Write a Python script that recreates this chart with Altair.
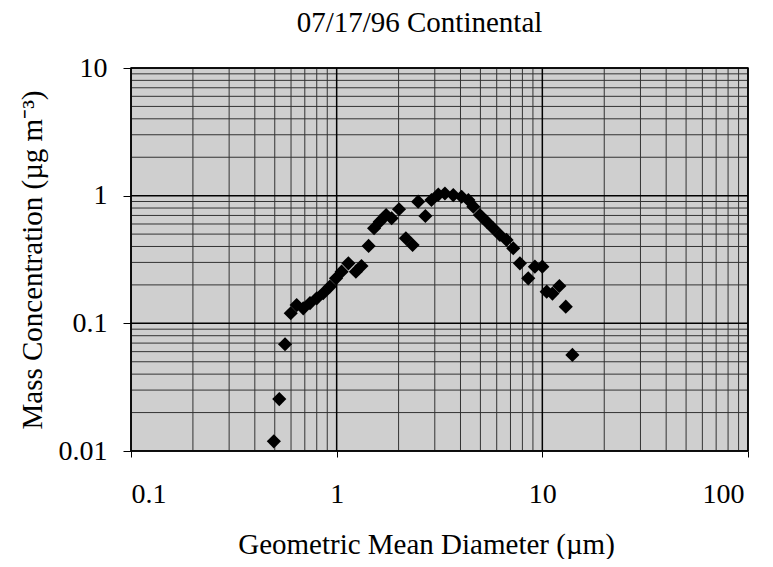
import altair as alt
import pandas as pd

diam = [0.495, 0.526, 0.561, 0.598, 0.639, 0.688, 0.742, 0.80, 0.86, 0.927,
        0.993, 1.057, 1.14, 1.24, 1.32, 1.43, 1.52, 1.62, 1.74, 1.85,
        2.01, 2.17, 2.34, 2.49, 2.70, 2.89, 3.12, 3.36, 3.69, 4.05,
        4.37, 4.62, 4.97, 5.36, 5.77, 6.22, 6.70, 7.22, 7.78, 8.54,
        9.2, 10.0, 10.5, 11.2, 12.1, 13.0, 14.0]
conc = [0.0119, 0.0255, 0.0686, 0.12, 0.139, 0.131, 0.144, 0.157, 0.172, 0.194,
        0.225, 0.254, 0.295, 0.254, 0.281, 0.404, 0.556, 0.626, 0.706, 0.665,
        0.782, 0.464, 0.411, 0.897, 0.693, 0.925, 1.02, 1.04, 1.01, 0.98,
        0.925, 0.82, 0.706, 0.626, 0.556, 0.492, 0.45, 0.387, 0.295, 0.225,
        0.278, 0.278, 0.177, 0.171, 0.196, 0.135, 0.0566]

x_major = [0.1, 1, 10, 100]
y_major = [0.01, 0.1, 1, 10]
x_minor = [m * d for d in [0.1, 1, 10] for m in range(2, 10)]
y_minor = [m * d for d in [0.01, 0.1, 1] for m in range(2, 10)]

pts = pd.DataFrame({"d": diam, "c": conc})

FONT = "Liberation Serif"
XT = "Geometric Mean Diameter (µm)"
YT = "Mass Concentration (µg m⁻³)"
xs = alt.Scale(type="log", domain=[0.1, 100], nice=False)
ys = alt.Scale(type="log", domain=[0.01, 10], nice=False)
xaxis = alt.Axis(values=x_major, format="~g", grid=False, tickSize=6, tickColor="black",
                 labelPadding=23, titlePadding=22, domain=False, titleX=295, titleAlign="center",
                 labelOffset={"condition": {"test": "datum.value >= 100", "value": -4}, "value": 0})
yaxis = alt.Axis(values=y_major, format="~g", grid=False, tickSize=8, tickColor="black",
                 labelPadding=16, titlePadding=11, domain=False)

vminor = alt.Chart(pd.DataFrame({"v": x_minor})).mark_rule(color="#333333", strokeWidth=1).encode(
    x=alt.X("v:Q", scale=xs, axis=xaxis, title=XT))
vmajor = alt.Chart(pd.DataFrame({"v": x_major})).mark_rule(color="#000000", strokeWidth=1.5).encode(
    x=alt.X("v:Q", scale=xs, axis=xaxis, title=XT))
hminor = alt.Chart(pd.DataFrame({"v": y_minor})).mark_rule(color="#333333", strokeWidth=1).encode(
    y=alt.Y("v:Q", scale=ys, axis=yaxis, title=YT))
hmajor = alt.Chart(pd.DataFrame({"v": y_major})).mark_rule(color="#000000", strokeWidth=1.5).encode(
    y=alt.Y("v:Q", scale=ys, axis=yaxis, title=YT))

points = alt.Chart(pts).mark_point(shape="diamond", filled=True, color="black", size=200, opacity=1).encode(
    x=alt.X("d:Q", scale=xs, title=XT, axis=xaxis),
    y=alt.Y("c:Q", scale=ys, title=YT, axis=yaxis),
)

chart = alt.layer(vminor, hminor, vmajor, hmajor, points).properties(
    width=617, height=383,
    title=alt.TitleParams("07/17/96 Continental", font=FONT, fontSize=29, fontWeight="normal",
                          color="black", offset=16, dx=-20),
    autosize=alt.AutoSizeParams(type="none"),
    padding={"left": 123, "top": 60, "right": 17, "bottom": 108},
).configure_view(
    fill="#cfcfcf", stroke="black", strokeWidth=1.5
).configure_axis(
    labelFont=FONT, titleFont=FONT, labelFontSize=28, titleFontSize=29,
    labelColor="black", titleColor="black", titleFontWeight="normal"
)

chart.save("out.html", embed_options={"renderer": "svg", "actions": False})
